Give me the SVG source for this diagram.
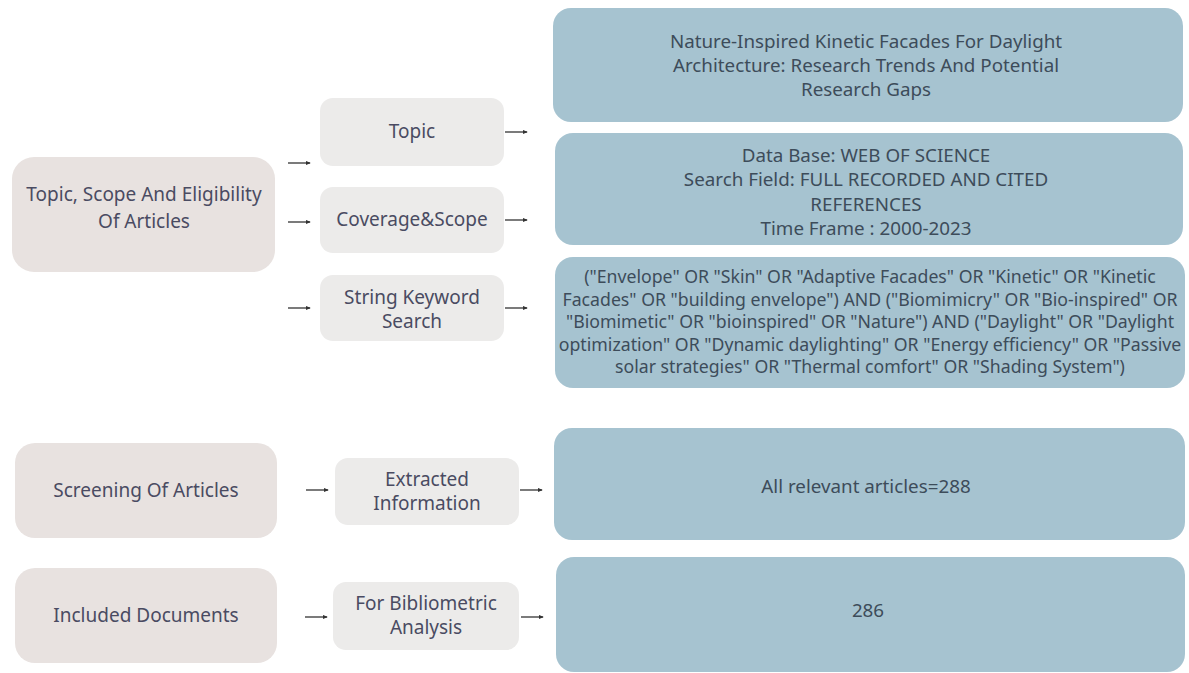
<svg xmlns="http://www.w3.org/2000/svg" width="1189" height="673" viewBox="0 0 1189 673">
<defs>
<marker id="ah" viewBox="0 0 6 6" refX="5" refY="3" markerWidth="5" markerHeight="5" orient="auto" markerUnits="userSpaceOnUse">
<path d="M0,0.5 L6,3 L0,5.5 Z" fill="#333"/>
</marker>
<style>
.big{fill:#e8e2e0;}
.mid{fill:#ecebea;}
.blue{fill:#a6c3d0;}
.lt{font-family:"Noto Sans","Open Sans",sans-serif;font-size:19px;fill:#4a4b62;text-anchor:middle;}
.bt{font-family:"Noto Sans","Open Sans",sans-serif;font-size:18.8px;fill:#3d4c5a;text-anchor:middle;}
.kt{font-family:"Noto Sans","Open Sans",sans-serif;font-size:17.7px;fill:#3d4c5a;text-anchor:middle;}
.ar{stroke:#333;stroke-width:1.3;fill:none;marker-end:url(#ah);}
</style>
</defs>
<rect width="1189" height="673" fill="#ffffff"/>

<g id="n-topic-scope">
<rect class="big" x="12" y="157" width="263" height="115" rx="22"/>
<text class="lt" x="144" y="201">Topic, Scope And Eligibility</text>
<text class="lt" x="144" y="228">Of Articles</text>
</g>
<g id="n-topic">
<rect class="mid" x="320" y="98" width="184" height="68" rx="13"/>
<text class="lt" x="412" y="138">Topic</text>
</g>
<g id="n-coverage">
<rect class="mid" x="320" y="187" width="184" height="66" rx="13"/>
<text class="lt" x="412" y="226">Coverage&amp;Scope</text>
</g>
<g id="n-string">
<rect class="mid" x="320" y="275" width="184" height="66" rx="13"/>
<text class="lt" x="412" y="304">String Keyword</text>
<text class="lt" x="412" y="328">Search</text>
</g>
<g id="n-title">
<rect class="blue" x="553" y="8" width="630" height="114" rx="18"/>
<text class="bt" x="866" y="48">Nature-Inspired Kinetic Facades For Daylight</text>
<text class="bt" x="866" y="72">Architecture: Research Trends And Potential</text>
<text class="bt" x="866" y="96">Research Gaps</text>
</g>
<g id="n-database">
<rect class="blue" x="555" y="133" width="628" height="112" rx="18"/>
<text class="bt" x="866" y="162">Data Base: WEB OF SCIENCE</text>
<text class="bt" x="866" y="186">Search Field: FULL RECORDED AND CITED</text>
<text class="bt" x="866" y="211">REFERENCES</text>
<text class="bt" x="866" y="235">Time Frame : 2000-2023</text>
</g>
<g id="n-keywords">
<rect class="blue" x="555" y="257" width="630" height="131" rx="18"/>
<text class="kt" x="870" y="283">("Envelope" OR "Skin" OR "Adaptive Facades" OR "Kinetic" OR "Kinetic</text>
<text class="kt" x="870" y="305.5">Facades" OR "building envelope") AND ("Biomimicry" OR "Bio-inspired" OR</text>
<text class="kt" x="870" y="328">"Biomimetic" OR "bioinspired" OR "Nature") AND ("Daylight" OR "Daylight</text>
<text class="kt" x="870" y="350.5">optimization" OR "Dynamic daylighting" OR "Energy efficiency" OR "Passive</text>
<text class="kt" x="870" y="373">solar strategies" OR "Thermal comfort" OR "Shading System")</text>
</g>
<g id="n-screening">
<rect class="big" x="15" y="443" width="262" height="95" rx="20"/>
<text class="lt" x="146" y="497">Screening Of Articles</text>
</g>
<g id="n-extracted">
<rect class="mid" x="335" y="458" width="184" height="67" rx="13"/>
<text class="lt" x="427" y="486">Extracted</text>
<text class="lt" x="427" y="510">Information</text>
</g>
<g id="n-relevant">
<rect class="blue" x="554" y="428" width="631" height="112" rx="18"/>
<text class="bt" x="866" y="493">All relevant articles=288</text>
</g>
<g id="n-included">
<rect class="big" x="15" y="568" width="262" height="95" rx="20"/>
<text class="lt" x="146" y="622">Included Documents</text>
</g>
<g id="n-biblio">
<rect class="mid" x="333" y="582" width="186" height="68" rx="13"/>
<text class="lt" x="426" y="610">For Bibliometric</text>
<text class="lt" x="426" y="634">Analysis</text>
</g>
<g id="n-286">
<rect class="blue" x="556" y="557" width="629" height="115" rx="18"/>
<text class="bt" x="868" y="617">286</text>
</g>

<g id="connectors">
<line class="ar" x1="288" y1="163" x2="310" y2="163"/>
<line class="ar" x1="288" y1="222" x2="310" y2="222"/>
<line class="ar" x1="288" y1="308" x2="310" y2="308"/>
<line class="ar" x1="505" y1="132" x2="527" y2="132"/>
<line class="ar" x1="505" y1="220" x2="527" y2="220"/>
<line class="ar" x1="505" y1="308" x2="527" y2="308"/>
<line class="ar" x1="306" y1="490" x2="328" y2="490"/>
<line class="ar" x1="520" y1="490" x2="542" y2="490"/>
<line class="ar" x1="305" y1="617" x2="327" y2="617"/>
<line class="ar" x1="521" y1="617" x2="543" y2="617"/>
</g>
</svg>
